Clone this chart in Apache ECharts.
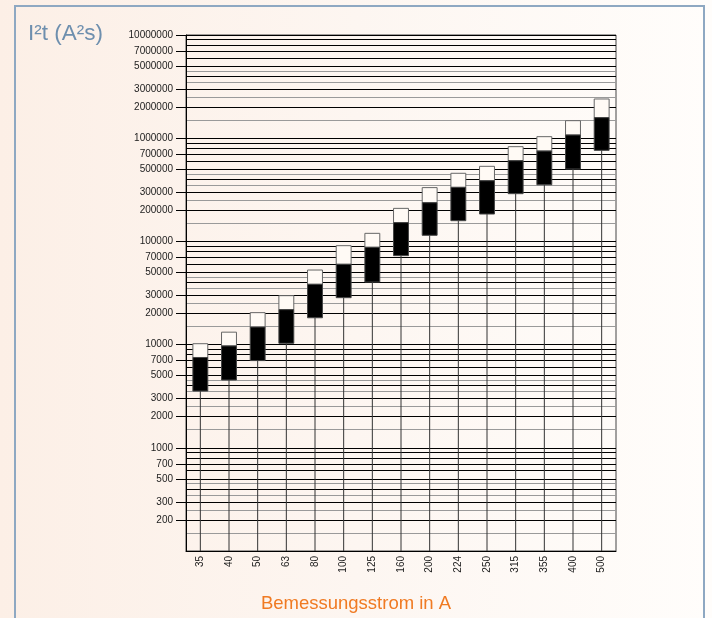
<!DOCTYPE html>
<html>
<head>
<meta charset="utf-8">
<script src="https://cdn.jsdelivr.net/npm/echarts@6/dist/echarts.min.js"></script>
<style>
html,body{margin:0;padding:0;width:712px;height:618px;overflow:hidden;
  background:linear-gradient(to right,#fcefe6 0%,#fdf6f1 50%,#fffdfb 100%);}
#frame{position:absolute;left:14px;top:5px;width:691px;height:640px;border:2px solid #8ea8c2;box-sizing:border-box;}
#chart{position:absolute;left:0;top:0;width:712px;height:618px;}
</style>
</head>
<body>
<div id="frame"></div>
<div id="chart"></div>
<script>
// Rated currents (categories)
const categories = ['35','40','50','63','80','100','125','160','200','224','250','315','355','400','500'];
// I²t values (A²s): bottom of black box, top of black box, top of white box
const lowValues  = [3550, 4540, 7000, 10300, 18200, 28500, 40400, 72800, 114600, 158800, 184200, 290000, 354000, 503000, 763000];
const midValues  = [7500, 9700, 14800, 21800, 38400, 60000, 87700, 152000, 237000, 334000, 387000, 605000, 751000, 1074000, 1581000];
const highValues = [10200, 13200, 20400, 29800, 52800, 90900, 119700, 209000, 332000, 457000, 534000, 828000, 1035000, 1479000, 2399000];
// Y axis tick labels
const yLabelValues = [200, 300, 500, 700, 1000, 2000, 3000, 5000, 7000, 10000, 20000, 30000, 50000, 70000, 100000,
  200000, 300000, 500000, 700000, 1000000, 2000000, 3000000, 5000000, 7000000, 10000000];
// Grid lines
const blackLineValues = [100,200,300,400,500,600,700,800,900,
  1000,2000,3000,4000,5000,6000,7000,8000,9000,
  10000,20000,30000,40000,50000,60000,70000,80000,90000,
  100000,200000,300000,400000,500000,600000,700000,800000,900000,
  1000000,2000000,3000000,4000000,5000000,6000000,7000000,8000000,9000000,10000000];
const grayLineValues = [150,250,350,450, 1500,2500,3500,4500, 15000,25000,35000,45000,
  150000,250000,350000,450000, 1500000,2500000,3500000,4500000];

const seriesData = categories.map((c, i) => [i, lowValues[i], midValues[i], highValues[i]]);

const FONT = '"Liberation Sans", Arial, sans-serif';
const chart = echarts.init(document.getElementById('chart'), null, {renderer: 'canvas'});

const baseY = {
  type: 'log', logBase: 10, min: 100, max: 10000000, position: 'left'
};

chart.setOption({
  animation: false,
  title: [
    {text: 'I²t (A²s)', left: 23, top: 17,
      textStyle: {fontFamily: FONT, fontSize: 22.5, fontWeight: 'normal', color: '#6e8fae'}},
    {text: 'Bemessungsstrom in A', left: 'center', top: 589,
      textStyle: {fontFamily: FONT, fontSize: 18.5, fontWeight: 'normal', color: '#f07a22'}}
  ],
  grid: {left: 186, right: 96, top: 35, bottom: 67, show: true, borderColor: '#444', borderWidth: 1,
    backgroundColor: 'transparent'},
  xAxis: {
    type: 'category', data: categories, boundaryGap: true,
    axisLine: {show: true, lineStyle: {color: '#000', width: 1}},
    axisTick: {show: false},
    splitLine: {show: false},
    axisLabel: {rotate: 90, fontFamily: FONT, fontSize: 10, color: '#222', margin: 5, interval: 0}
  },
  yAxis: [
    Object.assign({}, baseY, {
      axisLine: {show: false}, axisLabel: {show: false},
      axisTick: {show: false, customValues: grayLineValues},
      splitLine: {show: true, lineStyle: {color: '#9a9a9a', width: 1}},
      minorSplitLine: {show: false}
    }),
    Object.assign({}, baseY, {
      axisLine: {show: false}, axisLabel: {show: false},
      axisTick: {show: false, customValues: blackLineValues},
      splitLine: {show: true, lineStyle: {color: '#000', width: 1}}
    }),
    Object.assign({}, baseY, {
      axisLine: {show: true, lineStyle: {color: '#000', width: 1}},
      axisTick: {show: true, inside: false, length: 10, customValues: yLabelValues, lineStyle: {color: '#000'}},
      axisLabel: {show: true, customValues: yLabelValues, fontFamily: FONT, fontSize: 10, color: '#222', margin: 13,
        formatter: v => String(Math.round(v))},
      splitLine: {show: false}
    })
  ],
  series: [{
    type: 'custom',
    xAxisIndex: 0, yAxisIndex: 2,
    data: seriesData,
    encode: {x: 0, y: [1, 2, 3]},
    renderItem: function (params, api) {
      const idx = api.value(0);
      const pLo = api.coord([idx, api.value(1)]);
      const pMid = api.coord([idx, api.value(2)]);
      const pHi = api.coord([idx, api.value(3)]);
      const w = api.size([1, 1000])[0] * 0.52;
      const bottom = params.coordSys.y + params.coordSys.height;
      return {
        type: 'group',
        children: [
          {type: 'line', shape: {x1: pLo[0], y1: pLo[1], x2: pLo[0], y2: bottom},
            style: {stroke: '#333', lineWidth: 1}},
          {type: 'rect', shape: {x: pHi[0] - w / 2, y: pHi[1], width: w, height: pMid[1] - pHi[1]},
            style: {fill: '#fffaf5', stroke: '#666', lineWidth: 1}},
          {type: 'rect', shape: {x: pMid[0] - w / 2, y: pMid[1], width: w, height: pLo[1] - pMid[1]},
            style: {fill: '#000', stroke: '#444', lineWidth: 1}}
        ]
      };
    }
  }]
});
</script>
</body>
</html>
